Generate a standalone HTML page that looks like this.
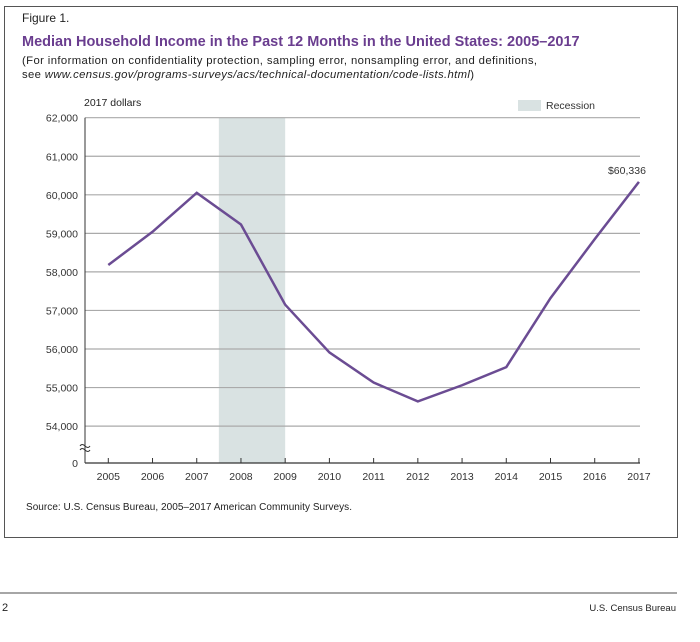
<!DOCTYPE html>
<html><head><meta charset="utf-8"><style>
body{margin:0;background:#fff;font-family:"Liberation Sans",sans-serif;}
svg text{font-family:"Liberation Sans",sans-serif;}
</style></head><body>
<svg width="700" height="637">
<rect x="4.5" y="6.5" width="673" height="531" fill="none" stroke="#555" stroke-width="1"/>
<text x="22" y="22" font-size="12" fill="#222">Figure 1.</text>
<text x="22" y="46" font-size="14.5" font-weight="bold" fill="#6a3d8f">Median Household Income in the Past 12 Months in the United States: 2005–2017</text>
<text x="22" y="64" font-size="11.3" fill="#222" textLength="515" lengthAdjust="spacing">(For information on confidentiality protection, sampling error, nonsampling error, and definitions,</text>
<text x="22" y="78" font-size="11.3" fill="#222" textLength="452" lengthAdjust="spacing">see <tspan font-style="italic">www.census.gov/programs-surveys/acs/technical-documentation/code-lists.html</tspan>)</text>
<text x="84" y="106" font-size="10.5" fill="#222">2017 dollars</text>
<rect x="518" y="100" width="23" height="11" fill="#d9e2e2"/>
<text x="546" y="109" font-size="10.5" fill="#333">Recession</text>
<g id="chart"></g>
<text x="26" y="510" font-size="10" fill="#222" textLength="326" lengthAdjust="spacing">Source: U.S. Census Bureau, 2005–2017 American Community Surveys.</text>
<line x1="0" y1="593" x2="677" y2="593" stroke="#888" stroke-width="1.5"/>
<text x="2" y="611" font-size="11" fill="#222">2</text>
<text x="676" y="611" font-size="9.5" fill="#222" text-anchor="end">U.S. Census Bureau</text>
</svg>
<script>
const years=[2005,2006,2007,2008,2009,2010,2011,2012,2013,2014,2015,2016,2017];
const income=[58180,59040,60050,59230,57150,55910,55130,54640,55060,55530,57320,58850,60336];
const yTicks=[54000,55000,56000,57000,58000,59000,60000,61000,62000];
const recession=[2007.5,2009];
const ns="http://www.w3.org/2000/svg";
const g=document.getElementById('chart');
const x=v=>108.3+(v-2005)*44.22;
const y=v=>117.7+(62000-v)*0.03855;
function mk(t,a){const e=document.createElementNS(ns,t);for(const k in a)e.setAttribute(k,a[k]);g.appendChild(e);return e;}
let r=mk('rect',{x:x(recession[0]),y:y(62000),width:x(recession[1])-x(recession[0]),height:463-y(62000),fill:'#d9e2e2'});


yTicks.forEach(v=>{
 let l=mk('line',{x1:85,x2:640,y1:y(v),y2:y(v),stroke:'#aaa','stroke-width':1.2});
 
 
 let t=mk('text',{x:78,y:y(v)+4,'font-size':10.5,fill:'#333','text-anchor':'end'});
 t.textContent=v.toLocaleString('en-US');
 
 
});
let z=mk('text',{x:78,y:467,'font-size':10.5,fill:'#333','text-anchor':'end'});z.textContent='0';


let ya=mk('line',{x1:85,x2:85,y1:y(62000),y2:463,stroke:'#333','stroke-width':1});


let br=mk('path',{d:'M80,446 q2,-3 5,0 t5,0 M80,450 q2,-3 5,0 t5,0',fill:'none',stroke:'#333','stroke-width':1});


let xa=mk('line',{x1:85,x2:640,y1:463,y2:463,stroke:'#333','stroke-width':1.2});


years.forEach(v=>{
 let tk=mk('line',{x1:x(v),x2:x(v),y1:458,y2:463,stroke:'#333'});
 
 
 let t=mk('text',{x:x(v),y:480,'font-size':10.5,fill:'#333','text-anchor':'middle'});
 t.textContent=v;
 
 
});
let pl=mk('polyline',{points:years.map((v,i)=>x(v)+','+y(income[i])).join(' '),fill:'none',stroke:'#6b4c93','stroke-width':2.5,'stroke-linejoin':'miter'});


const last=income.length-1;
let lb=mk('text',{x:x(years[last])+7,y:y(income[last])-8,'font-size':10.5,fill:'#333','text-anchor':'end'});
lb.textContent='$'+income[last].toLocaleString('en-US');


</script>
</body></html>
